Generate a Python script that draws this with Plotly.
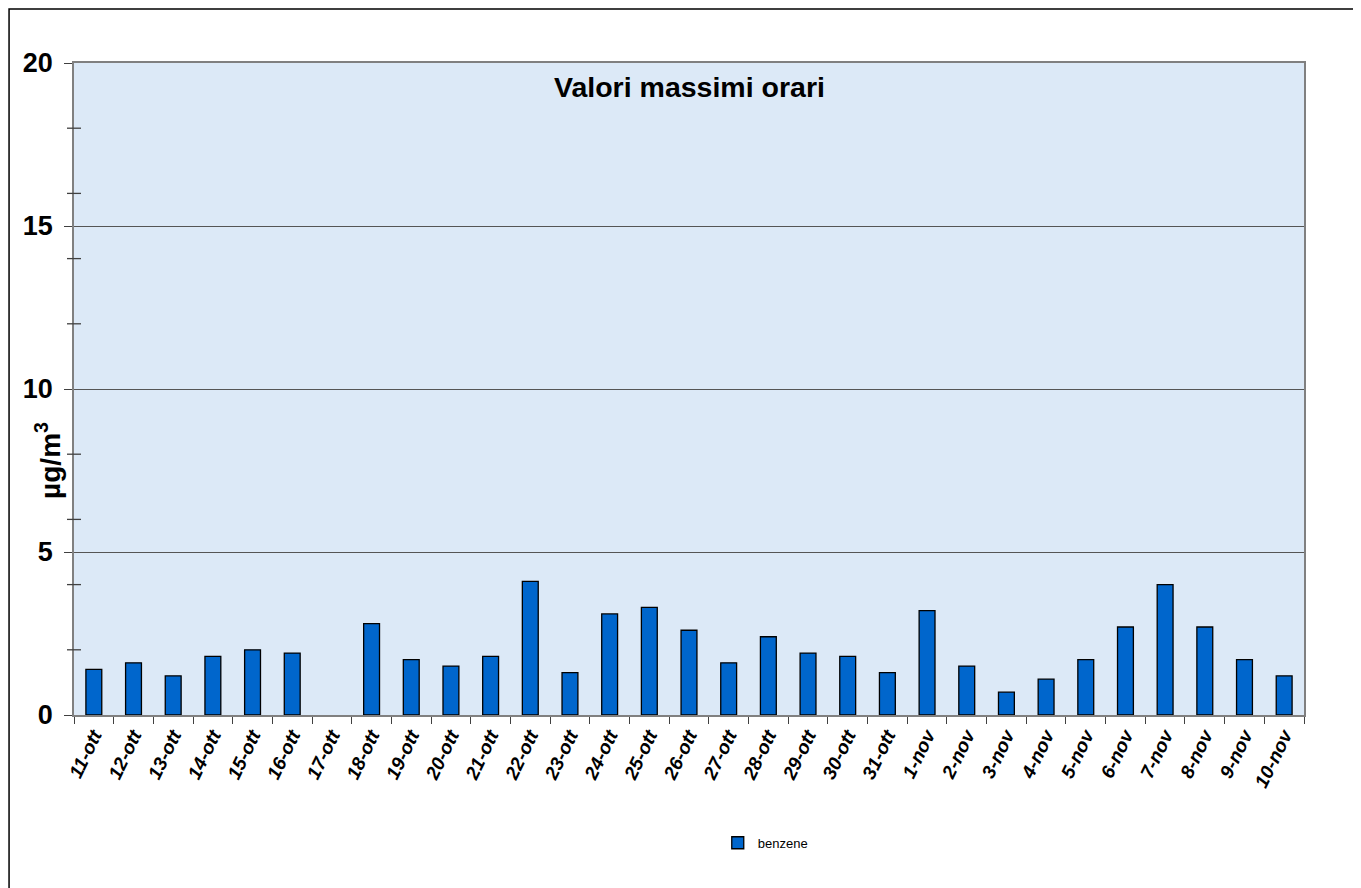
import plotly.graph_objects as go

categories = ["11-ott", "12-ott", "13-ott", "14-ott", "15-ott", "16-ott", "17-ott", "18-ott",
              "19-ott", "20-ott", "21-ott", "22-ott", "23-ott", "24-ott", "25-ott", "26-ott",
              "27-ott", "28-ott", "29-ott", "30-ott", "31-ott", "1-nov", "2-nov", "3-nov",
              "4-nov", "5-nov", "6-nov", "7-nov", "8-nov", "9-nov", "10-nov"]
benzene = [1.4, 1.6, 1.2, 1.8, 2.0, 1.9, None, 2.8,
           1.7, 1.5, 1.8, 4.1, 1.3, 3.1, 3.3, 2.6,
           1.6, 2.4, 1.9, 1.8, 1.3, 3.2, 1.5, 0.7,
           1.1, 1.7, 2.7, 4.0, 2.7, 1.7, 1.2]
y_ticks = [0, 5, 10, 15, 20]
minor_ticks = [2, 4, 6, 8, 12, 14, 16, 18]

FONT = "Liberation Sans, Arial, sans-serif"

fig = go.Figure()
fig.add_trace(go.Bar(
    x=categories, y=benzene, name="benzene",
    marker=dict(color="#0066CC", line=dict(color="#000000", width=1.3)),
))

shapes = [dict(
    type="rect", xref="paper", yref="paper",
    x0=-0.0528, x1=1.06, y0=-0.29, y1=1.0828,
    line=dict(color="black", width=1.5), fillcolor="rgba(0,0,0,0)", layer="below",
)]
# crossing minor ticks on the value axis
for v in minor_ticks:
    shapes.append(dict(type="line", xref="paper", yref="y",
                       x0=-0.0057, x1=0.0057, y0=v, y1=v,
                       line=dict(color="#404040", width=1.3)))

fig.update_layout(
    width=1361, height=888,
    margin=dict(l=66, r=65, t=55, b=181),
    paper_bgcolor="white",
    plot_bgcolor="#DCE9F7",
    bargap=0.6,
    font=dict(family=FONT, color="black"),
    showlegend=True,
    legend=dict(x=0.562, y=-0.196, xanchor="center", yanchor="middle",
                orientation="h", font=dict(size=13, family=FONT),
                bgcolor="rgba(0,0,0,0)", itemwidth=30),
    xaxis=dict(
        type="category", tickson="boundaries", ticks="outside", ticklen=7,
        tickcolor="#404040", tickwidth=1.3, automargin=False,
        showline=True, linecolor="#808080", linewidth=1.5, mirror=True,
        showgrid=False, tickangle=-64,
        tickfont=dict(size=19, family=FONT, weight="bold", style="italic"),
    ),
    yaxis=dict(
        range=[0, 20], tickvals=y_ticks, ticks="outside", ticklen=8,
        tickcolor="#404040", tickwidth=1.3, automargin=False,
        showline=True, linecolor="#808080", linewidth=1.5, mirror=True,
        showgrid=True, gridcolor="#555555", gridwidth=1,
        zeroline=False, ticklabelstandoff=6,
        tickfont=dict(size=27, family=FONT, weight="bold"),
    ),
    annotations=[
        dict(text="<b>Valori massimi orari</b>", x=0.5, y=0.963, xref="paper", yref="paper",
             xanchor="center", yanchor="middle", showarrow=False,
             font=dict(size=28.5, family=FONT, color="black")),
        dict(text="<b>µg/m<sup>3</sup></b>", x=-0.021, y=0.39, xref="paper", yref="paper",
             xanchor="center", yanchor="middle", showarrow=False, textangle=-90,
             font=dict(size=28, family=FONT, color="black")),
    ],
    shapes=shapes,
)

fig.write_html("out.html")
